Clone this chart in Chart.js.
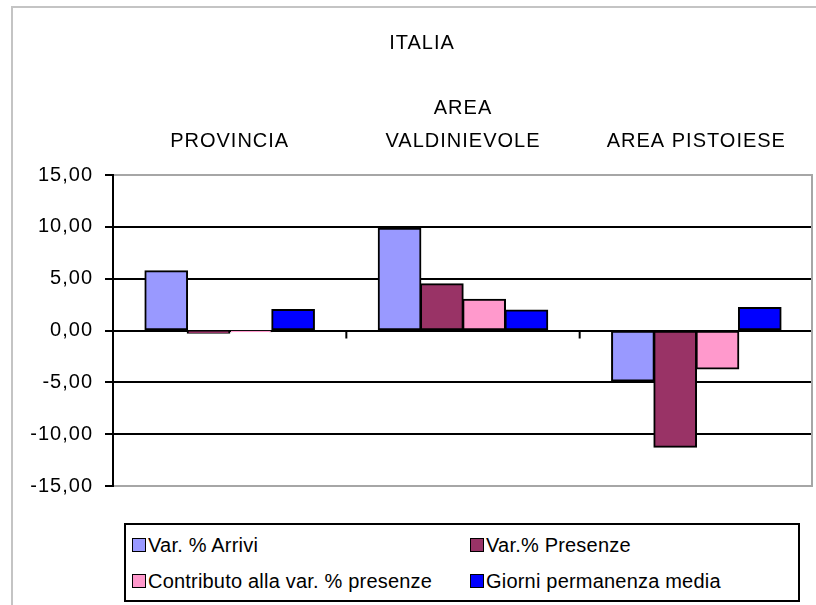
<!DOCTYPE html>
<html>
<head>
<meta charset="utf-8">
<script src="https://cdn.jsdelivr.net/npm/chart.js@4/dist/chart.umd.min.js"></script>
<style>
  body { margin: 0; background: #fff; font-family: "Liberation Sans", Arial, sans-serif; }
  #wrap { position: relative; width: 816px; height: 605px; overflow: hidden; }
  #frame { position: absolute; left: 11px; top: 6px; width: 900px; height: 700px;
           border-left: 2px solid #c4c4c4; border-top: 2px solid #c4c4c4; }
  #chart { position: absolute; left: 0; top: 0; }
  #legend { position: absolute; left: 124px; top: 523px; width: 672px; height: 75px;
            border: 2px solid #000; background: #fff; font-size: 20px; color: #000; letter-spacing: 0.2px; }
  .item { position: absolute; top: 0; height: 36px; display: flex; align-items: center; white-space: nowrap; }
  .sw { width: 12px; height: 12px; border: 1px solid #000; margin-right: 2px; }
</style>
</head>
<body>
<div id="wrap">
  <div id="frame"></div>
  <canvas id="chart" width="816" height="605"></canvas>
  <div id="legend"></div>
</div>
<script>
const categories = ["PROVINCIA", ["AREA", "VALDINIEVOLE"], "AREA PISTOIESE"];
const seriesNames = ["Var. % Arrivi", "Var.% Presenze", "Contributo alla var. % presenze", "Giorni permanenza media"];
const arrivi = [5.75, 9.85, -4.85];
const presenze = [-0.25, 4.5, -11.25];
const contributo = [-0.1, 3.0, -3.7];
const giorni = [2.0, 1.95, 2.2];
const yTicks = [-15, -10, -5, 0, 5, 10, 15];

const colors = ["#9999ff", "#993366", "#ff99cc", "#0000ff"];
const font = "'Liberation Sans', Arial, sans-serif";

// tick marks at the category boundaries on the zero line + right frame
const extras = {
  id: "extras",
  beforeDraw(chart) {
    chart.ctx.letterSpacing = "1px";
  },
  afterDraw(chart) {
    const { ctx, chartArea, scales } = chart;
    const x = scales.x, y = scales.y;
    const y0 = y.getPixelForValue(0);
    ctx.save();
    ctx.strokeStyle = "#000";
    ctx.lineWidth = 2;
    for (let i = 1; i < categories.length; i++) {
      const bx = (x.getPixelForValue(i - 1) + x.getPixelForValue(i)) / 2;
      ctx.beginPath();
      ctx.moveTo(bx, y0);
      ctx.lineTo(bx, y0 + 8);
      ctx.stroke();
    }
    ctx.strokeStyle = "#a6a6a6";
    ctx.beginPath();
    ctx.moveTo(chartArea.right - 1, chartArea.top);
    ctx.lineTo(chartArea.right - 1, chartArea.bottom);
    ctx.stroke();
    ctx.restore();
  }
};

const chart = new Chart(document.getElementById("chart").getContext("2d"), {
  type: "bar",
  data: {
    labels: categories,
    datasets: [arrivi, presenze, contributo, giorni].map((d, i) => ({
      label: seriesNames[i],
      data: d,
      backgroundColor: colors[i],
      borderColor: "#000",
      borderWidth: 2,
      borderSkipped: false,
      inflateAmount: 0.7,
      categoryPercentage: 0.725,
      barPercentage: 1
    }))
  },
  options: {
    responsive: false,
    devicePixelRatio: 1,
    animation: false,
    layout: { padding: { left: 31, right: 3, top: 0, bottom: 119 } },
    plugins: {
      legend: { display: false },
      tooltip: { enabled: false },
      title: {
        display: true,
        text: "ITALIA",
        color: "#000",
        font: { family: font, size: 20, weight: "normal", lineHeight: 1.2 },
        padding: { top: 31, bottom: 0 }
      }
    },
    scales: {
      x: {
        position: "top",
        grid: { display: false, drawTicks: false },
        border: { display: false },
        ticks: {
          color: "#000",
          maxRotation: 0,
          autoSkip: false,
          padding: 17.5,
          font: { family: font, size: 20, lineHeight: 1.65 }
        },
        afterFit: s => { s.height = 120; }
      },
      y: {
        min: -15,
        max: 15,
        afterBuildTicks: s => { s.ticks = yTicks.map(v => ({ value: v })); },
        grid: {
          color: c => (c.tick && Math.abs(c.tick.value) === 15) ? "#a6a6a6" : "#000",
          lineWidth: 2,
          tickColor: "#000",
          tickLength: 8,
          tickWidth: 2
        },
        border: { display: true, color: "#000", width: 2 },
        ticks: {
          color: "#000",
          padding: 12,
          font: { family: font, size: 20 },
          callback: v => v.toFixed(2).replace(".", ",")
        },
        afterFit: s => { s.width = 82; }
      }
    }
  },
  plugins: [extras]
});

// legend box, two columns
const legend = document.getElementById("legend");
const colLeft = [6, 344];
chart.data.datasets.forEach((ds, i) => {
  const item = document.createElement("div");
  item.className = "item";
  item.style.left = colLeft[i % 2] + "px";
  item.style.top = (2 + Math.floor(i / 2) * 36) + "px";
  item.innerHTML = `<span class="sw" style="background:${ds.backgroundColor}"></span><span>${ds.label}</span>`;
  legend.appendChild(item);
});
</script>
</body>
</html>
